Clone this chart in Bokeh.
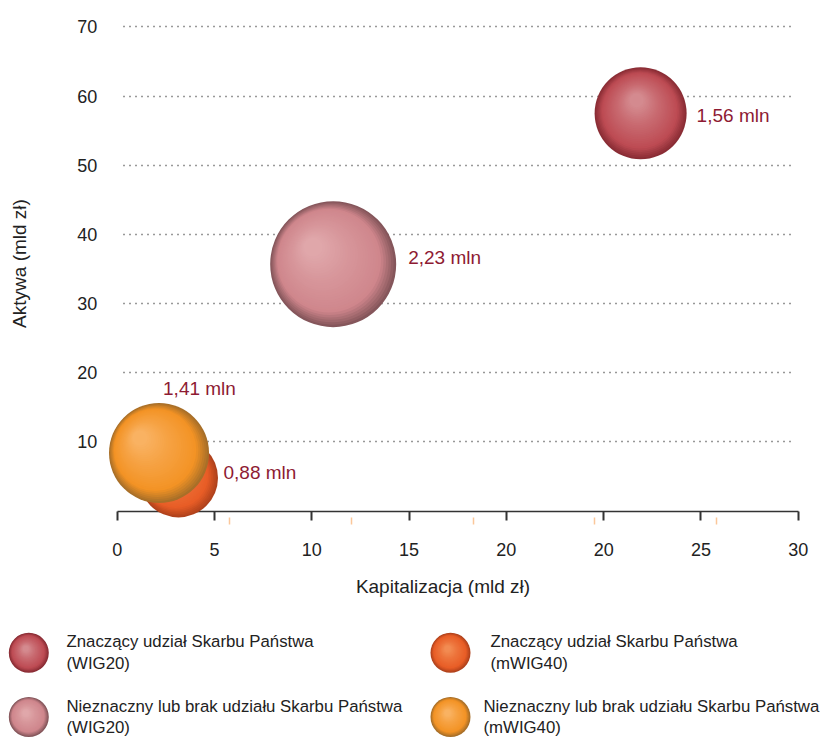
import numpy as np
from bokeh.plotting import figure
from bokeh.models import Range1d, FixedTicker, ColumnDataSource, LinearAxis
from bokeh.embed import file_html
from bokeh.resources import INLINE
from bokeh.core.properties import value

# ---------------- data ----------------
categories = [
    "Znaczący udział Skarbu Państwa (WIG20)",
    "Nieznaczny lub brak udziału Skarbu Państwa (WIG20)",
    "Znaczący udział Skarbu Państwa (mWIG40)",
    "Nieznaczny lub brak udziału Skarbu Państwa (mWIG40)",
]
# position along the (evenly spaced) Kapitalizacja axis, in tick-slot units
kapitalizacja_pos = [5.38, 2.22, 0.63, 0.43]
aktywa = [57.5, 35.7, 4.8, 8.4]                     # mld zł
akcjonariusze = ["1,56 mln", "2,23 mln", "0,88 mln", "1,41 mln"]

x_tick_labels = ["0", "5", "10", "15", "20", "20", "25", "30"]
x_minor_ticks = [1.154, 2.41, 3.66, 4.91, 6.16]
y_ticks = [10, 20, 30, 40, 50, 60, 70]

# ---------------- layout / styles (pixels) ----------------
W, H = 831, 737
PX0, PY0 = 116.7, 510.6     # pixel position of the axes origin
KX, KY = 97.29, 6.917       # pixels per axis unit

bubble_r_px = [46, 63, 39.5, 50]
highlight_px = [(-4, -13), (-20, -17), (-14, -12), (-19, -15)]
edge_cols = ["#8a2d35", "#85565b", "#b0421c", "#a86f28"]
mid_cols = ["#bd4b53", "#cf868c", "#e85d26", "#f39325"]
hi_cols = ["#d48a8f", "#e0a7aa", "#f28b52", "#f9b262"]
label_off = [(56, 2), (75, -7), (45, -5), (4, -64)]

legend_cx = [28.3, 28.3, 450, 450]
legend_cy = [652.3, 716.5, 652.3, 716.5]
legend_tx = [66, 66, 490, 483]

FONT = "Liberation Sans"
TXT = "#222222"


def to_x(px):
    return (np.asarray(px, float) - PX0) / KX


def to_y(py):
    return (PY0 - np.asarray(py, float)) / KY


def h2r(c):
    c = c.lstrip("#")
    return np.array([int(c[i:i + 2], 16) for i in (0, 2, 4)], float)


def r2h(a):
    a = np.clip(np.round(a), 0, 255).astype(int)
    return "#%02x%02x%02x" % tuple(a)


def shade(t, e, m, h):
    stops = [0.0, 0.2, 0.65, 1.0]
    cols = [h2r(e), h2r(m), (h2r(m) + h2r(h)) / 2, h2r(h)]
    return r2h(np.array([np.interp(t, stops, [c[i] for c in cols]) for i in range(3)]))


def sphere(cx, cy, r, hx, hy, e, m, h, n=30):
    xs, ys, ss, cs = [], [], [], []
    for k in range(n):
        t = k / (n - 1)
        xs.append(cx + t * hx / KX)
        ys.append(cy - t * hy / KY)
        ss.append(2 * r * (1 - 0.85 * t))
        cs.append(shade(t, e, m, h))
    return xs, ys, ss, cs


p = figure(width=W, height=H,
           x_range=Range1d(float(to_x(0)), float(to_x(W))),
           y_range=Range1d(float(to_y(H)), float(to_y(0))),
           output_backend="svg", toolbar_location=None,
           min_border=0, min_border_left=0, min_border_right=0,
           min_border_top=0, min_border_bottom=0)
p.outline_line_color = None
p.background_fill_color = "white"
p.border_fill_color = "white"
p.grid.visible = False

n_slots = len(x_tick_labels) - 1

# x axis (line, ticks, tick labels)
xa = p.xaxis[0]
xa.fixed_location = 0
xa.ticker = FixedTicker(ticks=list(range(len(x_tick_labels))), minor_ticks=x_minor_ticks)
xa.major_label_overrides = {i: lab for i, lab in enumerate(x_tick_labels)}
xa.bounds = (0, n_slots)
xa.axis_line_color = "#333333"
xa.axis_line_width = 1.6
xa.major_tick_line_color = "#333333"
xa.major_tick_line_width = 2
xa.major_tick_in = 0
xa.major_tick_out = 9
xa.minor_tick_line_color = "#fbc79a"
xa.minor_tick_line_width = 1.5
xa.minor_tick_in = -6
xa.minor_tick_out = 13
xa.major_label_standoff = 19
xa.major_label_text_font = FONT
xa.major_label_text_font_size = "18px"
xa.major_label_text_color = TXT

# x axis title (separate axis so it can be centred like the reference)
xt = LinearAxis(fixed_location=0, ticker=FixedTicker(ticks=[]), bounds=(0, 6.69),
                axis_line_color=None, major_tick_line_color=None, minor_tick_line_color=None,
                major_tick_out=0, minor_tick_out=0,
                axis_label="Kapitalizacja (mld zł)", axis_label_text_font=FONT,
                axis_label_text_font_size="19px", axis_label_text_font_style="normal",
                axis_label_text_color=TXT, axis_label_standoff=64)
p.add_layout(xt, "below")

# y axis (labels + title)
ya = p.yaxis[0]
ya.fixed_location = 0
ya.bounds = (0, 71.6)
ya.ticker = FixedTicker(ticks=y_ticks)
ya.axis_line_color = None
ya.major_tick_line_color = None
ya.minor_tick_line_color = None
ya.major_tick_out = 0
ya.minor_tick_out = 0
ya.major_label_standoff = 20
ya.major_label_text_font = FONT
ya.major_label_text_font_size = "18px"
ya.major_label_text_color = TXT
ya.axis_label = "Aktywa (mld zł)"
ya.axis_label_text_font = FONT
ya.axis_label_text_font_size = "19px"
ya.axis_label_text_font_style = "normal"
ya.axis_label_text_color = TXT
ya.axis_label_standoff = 44

# dotted horizontal guide lines, drawn as the long inward ticks of an unlabelled y axis
yg = LinearAxis(fixed_location=0, ticker=FixedTicker(ticks=y_ticks),
                axis_line_color=None, minor_tick_line_color=None,
                major_label_text_color=None, major_label_text_font_size="1px",
                major_tick_line_color="#333333", major_tick_line_width=1.3,
                major_tick_line_dash="1 5",
                major_tick_in=int(round(n_slots * KX)) - 6, major_tick_out=-6)
p.add_layout(yg, "left")

# bubbles
bx, by, bs, bc = [], [], [], []
for i in range(len(categories)):
    xs, ys, ss, cs = sphere(kapitalizacja_pos[i], aktywa[i], bubble_r_px[i],
                            highlight_px[i][0], highlight_px[i][1],
                            edge_cols[i], mid_cols[i], hi_cols[i])
    bx += xs; by += ys; bs += ss; bc += cs
src = ColumnDataSource(dict(x=bx, y=by, size=bs, color=bc))
p.scatter("x", "y", size="size", fill_color="color", line_color=None, source=src, level="overlay")

p.text(x=kapitalizacja_pos, y=aktywa, text=akcjonariusze,
       x_offset=[o[0] for o in label_off], y_offset=[o[1] for o in label_off],
       text_font=value(FONT), text_font_size="19px", text_color="#8e1b33",
       text_align="left", text_baseline="middle", level="overlay")

# legend (drawn below the axes)
lx, ly, ls, lc = [], [], [], []
for i in range(len(categories)):
    xs, ys, ss, cs = sphere(float(to_x(legend_cx[i])), float(to_y(legend_cy[i])), 20, -3, -4,
                            edge_cols[i], mid_cols[i], hi_cols[i], n=20)
    lx += xs; ly += ys; ls += ss; lc += cs
lsrc = ColumnDataSource(dict(x=lx, y=ly, size=ls, color=lc))
p.scatter("x", "y", size="size", fill_color="color", line_color=None, source=lsrc)

p.text(x=list(to_x(legend_tx)), y=list(to_y(legend_cy)),
       text=[c.replace(" (", "\n(") for c in categories],
       text_font=value(FONT), text_font_size="16.8px", text_color=TXT,
       text_align="left", text_baseline="middle", text_line_height=1.15)

open("out.html", "w").write(file_html(p, INLINE))
